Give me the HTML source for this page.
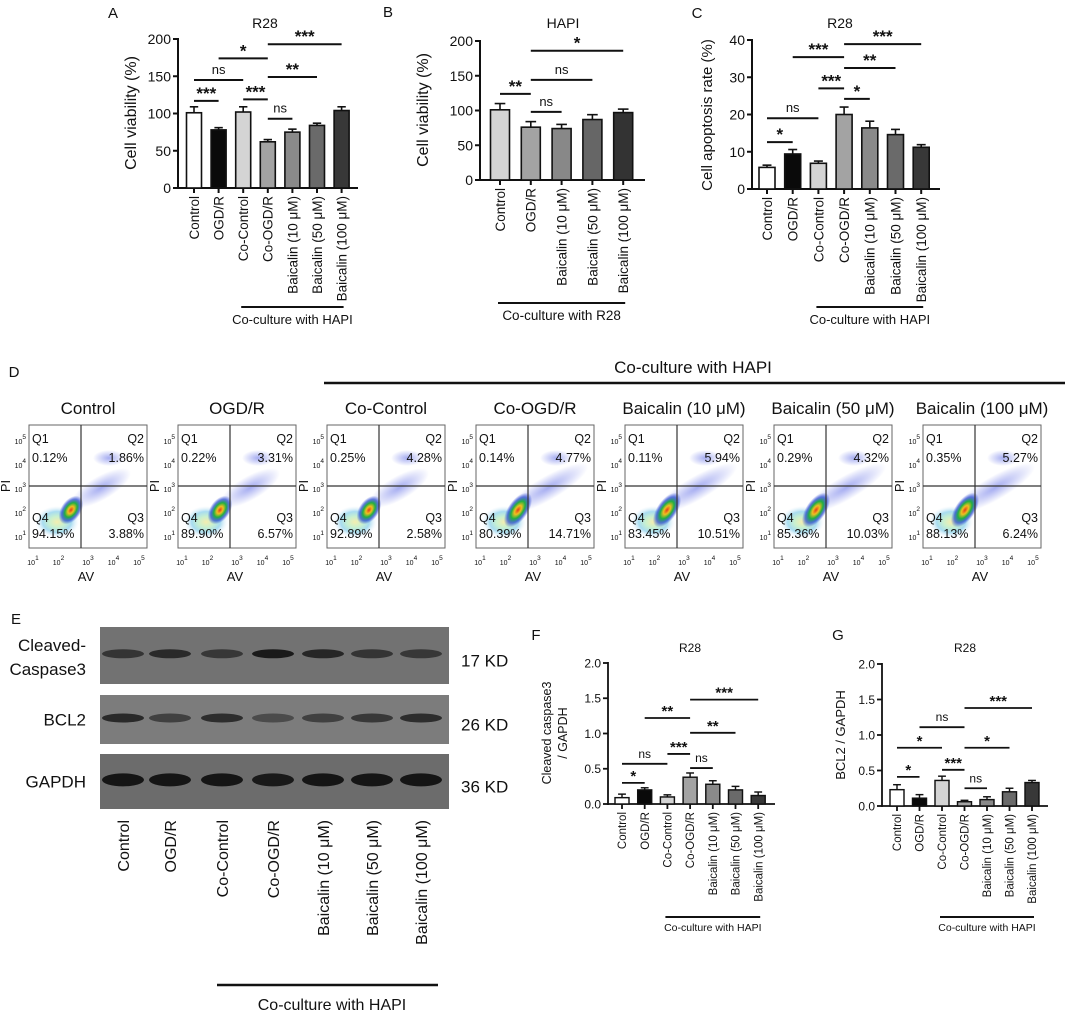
<!DOCTYPE html>
<html><head><meta charset="utf-8"><style>
html,body{margin:0;padding:0;background:#fff}
svg{display:block;font-family:"Liberation Sans",Arial,sans-serif}
</style></head><body>
<svg id="fig" width="1065" height="1016" viewBox="0 0 1065 1016" xmlns="http://www.w3.org/2000/svg">
<defs>
<radialGradient id="blob" cx="0.5" cy="0.5" r="0.5">
<stop offset="0" stop-color="#f4eeb0"/><stop offset="0.35" stop-color="#c8f0d0"/><stop offset="0.65" stop-color="#a8dcf0"/><stop offset="1" stop-color="#e6f2fb" stop-opacity="0"/>
</radialGradient>
<radialGradient id="hot" cx="0.5" cy="0.5" r="0.5">
<stop offset="0" stop-color="#e53a1a"/><stop offset="0.25" stop-color="#f0c020"/><stop offset="0.5" stop-color="#20b040"/><stop offset="0.75" stop-color="#2040d0" stop-opacity="0.7"/><stop offset="1" stop-color="#2040d0" stop-opacity="0"/>
</radialGradient>
<radialGradient id="spread" cx="0.5" cy="0.5" r="0.5">
<stop offset="0" stop-color="#3848e0" stop-opacity="0.45"/><stop offset="1" stop-color="#3848e0" stop-opacity="0"/>
</radialGradient>
</defs>
</svg>
<script>
// ===== Panel A data =====
const catsA = ["Control","OGD/R","Co-Control","Co-OGD/R","Baicalin (10 μM)","Baicalin (50 μM)","Baicalin (100 μM)"];
const valsA = [101,78,102,62,75,84,104];
const errA = [8,3,7,3,4,3,5];
const ticksA = [0,50,100,150,200];
const sigA = [[0,1,117,"***"],[0,2,145,"ns"],[1,3,174,"*"],[2,3,119,"***"],[3,4,93,"ns"],[3,5,149,"**"],[3,6,193,"***"]];
// ===== Panel B data =====
const catsB = ["Control","OGD/R","Baicalin (10 μM)","Baicalin (50 μM)","Baicalin (100 μM)"];
const valsB = [101,76,74,87,97];
const errB = [9,8,6,7,5];
const ticksB = [0,50,100,150,200];
const sigB = [[0,1,124,"**"],[1,2,98,"ns"],[1,3,144,"ns"],[1,4,186,"*"]];
// ===== Panel C data =====
const catsC = catsA;
const valsC = [5.8,9.4,6.9,20,16.4,14.6,11.2];
const errC = [0.6,1.2,0.6,2,1.8,1.4,0.7];
const ticksC = [0,10,20,30,40];
const sigC = [[0,1,12.6,"*"],[0,2,19,"ns"],[2,3,27,"***"],[3,4,24.2,"*"],[1,3,35.4,"***"],[3,5,32.5,"**"],[3,6,38.9,"***"]];
// ===== Panel F data =====
const valsF = [0.09,0.2,0.1,0.38,0.28,0.2,0.12];
const errF = [0.05,0.03,0.03,0.06,0.05,0.05,0.05];
const ticksF = [0,0.5,1,1.5,2];
const sigF = [[0,1,0.30,"*"],[0,2,0.57,"ns"],[2,3,0.71,"***"],[3,4,0.51,"ns"],[1,3,1.22,"**"],[3,5,1.01,"**"],[3,6,1.48,"***"]];
// ===== Panel G data =====
const valsG = [0.23,0.11,0.36,0.06,0.09,0.2,0.33];
const errG = [0.07,0.05,0.06,0.02,0.04,0.05,0.03];
const ticksG = [0,0.5,1,1.5,2];
const sigG = [[0,1,0.41,"*"],[0,2,0.82,"*"],[1,3,1.11,"ns"],[2,3,0.51,"***"],[3,4,0.25,"ns"],[3,5,0.82,"*"],[3,6,1.38,"***"]];
// ===== Panel D data =====
const flowTitles = ["Control","OGD/R","Co-Control","Co-OGD/R","Baicalin (10 μM)","Baicalin (50 μM)","Baicalin (100 μM)"];
const flowQ1 = ["0.12%","0.22%","0.25%","0.14%","0.11%","0.29%","0.35%"];
const flowQ2 = ["1.86%","3.31%","4.28%","4.77%","5.94%","4.32%","5.27%"];
const flowQ3 = ["3.88%","6.57%","2.58%","14.71%","10.51%","10.03%","6.24%"];
const flowQ4 = ["94.15%","89.90%","92.89%","80.39%","83.45%","85.36%","88.13%"];
// ===== Panel E data =====
const blotLanes = ["Control","OGD/R","Co-Control","Co-OGD/R","Baicalin  (10 μM)","Baicalin  (50 μM)","Baicalin  (100 μM)"];
const bandCasp = [0.55,0.7,0.5,0.95,0.75,0.55,0.5];
const bandBcl2 = [0.75,0.45,0.7,0.3,0.45,0.55,0.7];
const bandGapdh = [1,1,1,0.95,1,1,1];

const NS="http://www.w3.org/2000/svg";
const svg=document.getElementById('fig');
function el(tag,attrs,parent,text){const e=document.createElementNS(NS,tag);for(const k in attrs)e.setAttribute(k,attrs[k]);if(text!==undefined)e.textContent=text;(parent||svg).appendChild(e);return e;}
function txt(x,y,s,size,anchor,parent,extra){const t=el('text',Object.assign({x:x,y:y,'font-size':size,'text-anchor':anchor||'middle',fill:'#111'},extra||{}),parent,s);return t;}

function barChart(c){
  const g=el('g',{});
  
  
  const ys=v=>c.y0-(v-c.ticks[0])/(c.ticks[c.ticks.length-1]-c.ticks[0])*(c.y0-c.yTop);
  const xs=i=>c.x1+i*c.step;
  const ya=el('line',{x1:c.ax,y1:c.yTop-1,x2:c.ax,y2:c.y0+1,stroke:'#111','stroke-width':c.lw},g);
  
  const xa=el('line',{x1:c.ax,y1:c.y0,x2:c.axEnd,y2:c.y0,stroke:'#111','stroke-width':c.lw},g);
  
  c.ticks.forEach(t=>{const y=ys(t);el('line',{x1:c.ax-5,y1:y,x2:c.ax,y2:y,stroke:'#111','stroke-width':c.lw},g);
    const tl=txt(c.ax-7,y+c.tf*0.36,c.fmt(t),c.tf,'end',g);});
  c.vals.forEach((v,i)=>{const x=xs(i);const yt=ys(v);
    const b=el('rect',{x:x-c.bw/2,y:yt,width:c.bw,height:c.y0-yt,fill:c.colors[i],stroke:'#111','stroke-width':c.lw*0.8},g);
    
    const ye=ys(v+c.err[i]);
    el('line',{x1:x,y1:yt,x2:x,y2:ye,stroke:'#111','stroke-width':c.lw*0.8},g);
    el('line',{x1:x-c.bw*0.28,y1:ye,x2:x+c.bw*0.28,y2:ye,stroke:'#111','stroke-width':c.lw*0.8},g);
    el('line',{x1:x,y1:c.y0,x2:x,y2:c.y0+5,stroke:'#111','stroke-width':c.lw},g);
    const l=txt(0,0,c.cats[i],c.xf,'end',g,{transform:`translate(${x+c.xf*0.36},${c.y0+8}) rotate(-90)`});
    
  });
  c.sig.forEach(s=>{const y=ys(s[2]);const x1=xs(s[0]),x2=xs(s[1]);
    const ln=el('line',{x1:x1,y1:y,x2:x2,y2:y,stroke:'#111','stroke-width':c.lw},g);
    
    const isStar=s[3]!=='ns';
    const t=txt((x1+x2)/2,isStar?y-2:y-6,s[3],isStar?c.sf:c.nf,'middle',g,isStar?{'font-weight':'bold'}:{});
    
  });
  if(c.co){const ln=el('line',{x1:xs(c.co[0])-2,y1:c.co[2],x2:xs(c.co[1])+2,y2:c.co[2],stroke:'#111','stroke-width':2},g);
    
    const t=txt((xs(c.co[0])+xs(c.co[1]))/2,c.co[2]+c.co[3],c.coText,c.cf,'middle',g);
    }
  return g;
}
const fmtInt=t=>String(t), fmt1=t=>t.toFixed(1);
const grays7=['#ffffff','#0a0a0a','#d4d4d4','#a3a3a3','#8a8a8a','#6a6a6a','#383838'];
barChart({name:'panel-a-chart',cats:catsA,vals:valsA,err:errA,ticks:ticksA,sig:sigA,ax:178,axEnd:358,y0:188,yTop:39,x1:194,step:24.6,bw:15,lw:2,tf:14,xf:13.5,sf:17,nf:13,fmt:fmtInt,colors:grays7,co:[2,6,307,17],coText:'Co-culture with HAPI',cf:13});
barChart({name:'panel-b-chart',cats:catsB,vals:valsB,err:errB,ticks:ticksB,sig:sigB,ax:480,axEnd:645,y0:180,yTop:41,x1:500,step:30.8,bw:19,lw:2,tf:14,xf:13.5,sf:17,nf:13,fmt:fmtInt,colors:['#d4d4d4','#a3a3a3','#888','#666','#333'],co:[0,4,303,17],coText:'Co-culture with R28',cf:13.5});
barChart({name:'panel-c-chart',cats:catsC,vals:valsC,err:errC,ticks:ticksC,sig:sigC,ax:752,axEnd:940,y0:189,yTop:40,x1:767,step:25.7,bw:16,lw:2,tf:14,xf:13.5,sf:17,nf:13,fmt:fmtInt,colors:grays7,co:[2,6,307,17],coText:'Co-culture with HAPI',cf:13});
barChart({name:'panel-f-chart',cats:catsA,vals:valsF,err:errF,ticks:ticksF,sig:sigF,ax:608,axEnd:775,y0:804,yTop:663,x1:622,step:22.7,bw:14,lw:1.8,tf:12,xf:11.5,sf:15,nf:12,fmt:fmt1,colors:grays7,co:[2,6,917,14],coText:'Co-culture with HAPI',cf:10.5});
barChart({name:'panel-g-chart',cats:catsA,vals:valsG,err:errG,ticks:ticksG,sig:sigG,ax:882,axEnd:1048,y0:806,yTop:664,x1:897,step:22.5,bw:14,lw:1.8,tf:12,xf:11.5,sf:15,nf:12,fmt:fmt1,colors:grays7,co:[2,6,917,14],coText:'Co-culture with HAPI',cf:10.5});

function label(x,y,s,size,name,extra,anchor){const t=txt(x,y,s,size,anchor||'middle',svg,extra||{});return t;}
label(113,18,'A',15,'panel-a-letter');label(388,17,'B',15,'panel-b-letter');label(697,18,'C',15,'panel-c-letter');
label(14,377,'D',15,'panel-d-letter');label(16,624,'E',15,'panel-e-letter');label(536,640,'F',15,'panel-f-letter');label(838,640,'G',15,'panel-g-letter');
label(265,28,'R28',14,'panel-a-title');label(563,28,'HAPI',14,'panel-b-title');label(840,28,'R28',14,'panel-c-title');
label(690,652,'R28',12,'panel-f-title');label(965,652,'R28',12,'panel-g-title');
label(0,0,'Cell viability (%)',16,'panel-a-y-title',{transform:'translate(136,113) rotate(-90)'});
label(0,0,'Cell viability (%)',16,'panel-b-y-title',{transform:'translate(428,110) rotate(-90)'});
label(0,0,'Cell apoptosis rate (%)',15,'panel-c-y-title',{transform:'translate(712,115) rotate(-90)'});
label(0,0,'Cleaved caspase3',12.5,'panel-f-y-title',{transform:'translate(551,733) rotate(-90)'});
label(0,0,'/ GAPDH',12.5,'panel-f-y-title-2',{transform:'translate(567,733) rotate(-90)'});
label(0,0,'BCL2 / GAPDH',13,'panel-g-y-title',{transform:'translate(845,735) rotate(-90)'});

// ===== Panel D: flow =====
label(693,373,'Co-culture with HAPI',17,'flow-co-culture-label');
{const l=el('line',{x1:324,y1:383,x2:1065,y2:383,stroke:'#111','stroke-width':2.5});}
const expTicks=[1,2,3,4,5];
flowTitles.forEach((ttl,i)=>{
  const L=29+149*i, T=425, W=118, H=123, vx=L+52, hy=486;
  const g=el('g',{});
  const t=txt(L+W/2,414,ttl,17,'middle',g);
  const sp=i>=3?1:0;
  el('ellipse',{cx:L+72,cy:hy+2,rx:34+sp*12,ry:12,fill:'url(#spread)',transform:`rotate(-30 ${L+72} ${hy+2})`},g);
  el('ellipse',{cx:L+80,cy:T+33,rx:16,ry:8,fill:'url(#spread)'},g);
  el('ellipse',{cx:L+28,cy:hy+36,rx:22,ry:16,fill:'url(#blob)'},g);
  el('ellipse',{cx:L+42,cy:hy+24,rx:16+sp*4,ry:10,fill:'url(#hot)',transform:`rotate(-55 ${L+42} ${hy+24})`},g);
  el('rect',{x:L,y:T,width:W,height:H,fill:'none',stroke:'#666','stroke-width':1},g);
  el('line',{x1:vx,y1:T,x2:vx,y2:T+H,stroke:'#333','stroke-width':1.2},g);
  el('line',{x1:L,y1:hy,x2:L+W,y2:hy,stroke:'#333','stroke-width':1.2},g);
  txt(L+3,T+18,'Q1',12.5,'start',g);txt(L+3,T+37,flowQ1[i],12.5,'start',g);
  txt(L+W-3,T+18,'Q2',12.5,'end',g);txt(L+W-3,T+37,flowQ2[i],12.5,'end',g);
  txt(L+3,T+97,'Q4',12.5,'start',g);txt(L+3,T+113,flowQ4[i],12.5,'start',g);
  txt(L+W-3,T+97,'Q3',12.5,'end',g);txt(L+W-3,T+113,flowQ3[i],12.5,'end',g);
  expTicks.forEach((e,k)=>{
    const yy=T+19+24*(4-k);
    const a=txt(L-3,yy,'10',7,'end',g);el('tspan',{dy:-5,'font-size':6.5},a,String(e));
    const xx=L+4+25.5*k+(k>=2?4:0);
    const b=txt(xx,T+H+17,'10',7,'middle',g);el('tspan',{dy:-5,'font-size':6.5},b,String(e));
  });
  const av=txt(L+57,T+H+33,'AV',13,'middle',g);
  const pi=txt(0,0,'PI',13,'middle',g,{transform:`translate(${L-19},${hy}) rotate(-90)`});
});

// ===== Panel E: blot =====
const laneX=[123,170,222,273,323,372,421];
const rows=[{y:627,h:57,bg:'#727272',vals:bandCasp,lab:['Cleaved-','Caspase3'],kd:'17 KD',bh:7,name:'blot-cleaved-caspase3'},
            {y:695,h:49,bg:'#7c7c7c',vals:bandBcl2,lab:['BCL2'],kd:'26 KD',bh:7,name:'blot-bcl2'},
            {y:754,h:55,bg:'#6c6c6c',vals:bandGapdh,lab:['GAPDH'],kd:'36 KD',bh:11,name:'blot-gapdh'}];
rows.forEach(r=>{
  const g=el('g',{});
  el('rect',{x:100,y:r.y,width:349,height:r.h,fill:r.bg},g);
  const cy=r.y+r.h*0.47;
  r.vals.forEach((v,i)=>{el('ellipse',{cx:laneX[i],cy:cy,rx:21,ry:r.bh/2+1,fill:'#111','fill-opacity':0.25+0.7*v},g);});
  if(r.lab.length===2){txt(86,651,r.lab[0],17,'end',g);txt(86,675,r.lab[1],17,'end',g);}
  else txt(86,r.y+r.h*0.5+6,r.lab[0],17,'end',g);
  txt(461,r.y+r.h*0.5+11,r.kd,17,'start',g);
});
blotLanes.forEach((s,i)=>{const t=txt(0,0,s,16,'end',svg,{transform:`translate(${laneX[i]+6},${820}) rotate(-90)`});});
{const l=el('line',{x1:217,y1:985,x2:438,y2:985,stroke:'#111','stroke-width':2.5});}
label(332,1010,'Co-culture with HAPI',16,'blot-co-culture-label');
</script>
</body></html>
